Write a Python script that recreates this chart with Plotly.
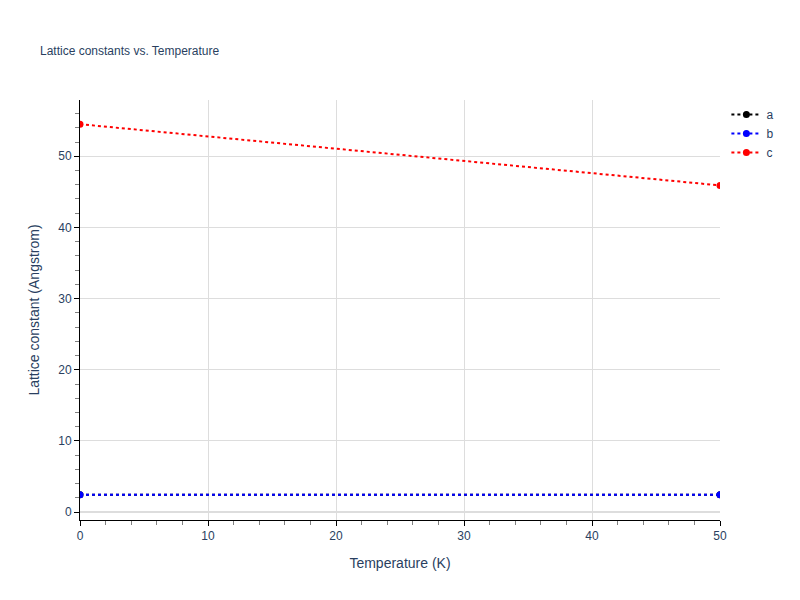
import plotly.graph_objects as go

temperature = [0, 50]
a_vals = [2.46, 2.46]
b_vals = [2.46, 2.46]
c_vals = [54.5, 45.9]

fig = go.Figure()
for name, vals, color in [('a', a_vals, 'black'), ('b', b_vals, 'blue'), ('c', c_vals, 'red')]:
    fig.add_trace(go.Scatter(x=temperature, y=vals, name=name, mode='lines+markers',
                             line=dict(color=color, dash='dot', width=2),
                             marker=dict(color=color, size=7)))

axis_style = dict(showline=True, linecolor='black', ticks='outside', tickcolor='black',
                  gridcolor='#dddddd', zeroline=True, zerolinecolor='#dddddd', zerolinewidth=2,
                  minor=dict(ticks='outside', dtick=2, tickcolor='gray', ticklen=4, showgrid=False))
fig.update_layout(
    template='plotly_white',
    font=dict(family='Arial, Liberation Sans, sans-serif'),
    title=dict(text='Lattice constants vs. Temperature', font=dict(size=12), x=0.04, y=0.935),
    width=800, height=600,
    margin=dict(l=72, r=88, t=92, b=88),
    legend=dict(x=1.01, y=1),
)
fig.update_xaxes(title='Temperature (K)', range=[0, 50], dtick=10, **axis_style)
fig.update_yaxes(title='Lattice constant (Angstrom)', range=[-1.1, 57.9], dtick=10, **axis_style)
fig.write_html('out.html')
